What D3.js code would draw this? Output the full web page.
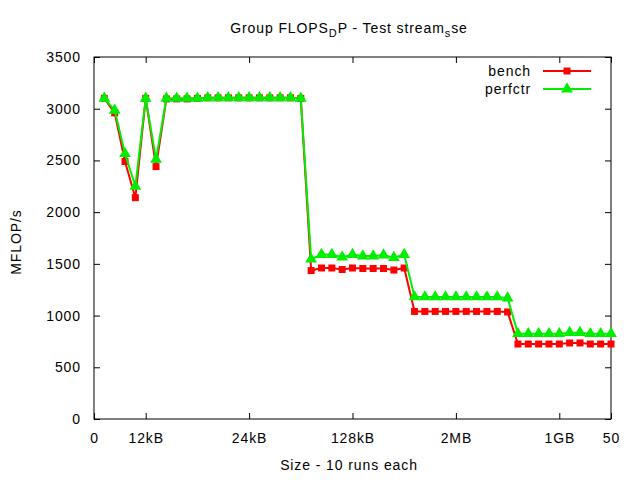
<!DOCTYPE html>
<html>
<head>
<meta charset="utf-8">
<script src="https://cdn.jsdelivr.net/npm/d3@7"></script>
<style>
  html, body { margin: 0; padding: 0; background: #fff; }
  svg text { font-family: "Liberation Sans", Arial, sans-serif; fill: #000; letter-spacing: 0.9px; }
</style>
</head>
<body>
<svg id="chart" width="640" height="480"></svg>
<script>
// ---- data ----
const xValues = d3.range(1, 51);
const benchValues = [
  3100, 2960, 2490, 2140, 3100, 2440, 3095, 3095, 3095, 3100,
  3105, 3105, 3105, 3105, 3105, 3105, 3105, 3105, 3105, 3100,
  1435, 1460, 1460, 1445, 1460, 1455, 1455, 1455, 1440, 1460,
  1040, 1040, 1040, 1040, 1040, 1040, 1040, 1040, 1040, 1035,
  725, 725, 725, 725, 725, 735, 735, 725, 725, 725
];
const perfctrValues = [
  3100, 2985, 2565, 2250, 3100, 2510, 3100, 3100, 3100, 3100,
  3105, 3105, 3105, 3105, 3105, 3105, 3105, 3105, 3105, 3100,
  1545, 1590, 1590, 1565, 1590, 1575, 1575, 1585, 1560, 1590,
  1180, 1180, 1180, 1180, 1180, 1180, 1180, 1180, 1180, 1170,
  825, 825, 825, 825, 825, 835, 835, 825, 825, 825
];
const xTickValues = [0, 5, 15, 25, 35, 45, 50];
const xTickLabels = ["0", "12kB", "24kB", "128kB", "2MB", "1GB", "50"];
const yTickValues = [0, 500, 1000, 1500, 2000, 2500, 3000, 3500];
const seriesNames = ["bench", "perfctr"];
const seriesColors = ["#ff0000", "#00ee00"];

// ---- layout ----
const svg = d3.select("#chart");
const L = 94, R = 611, T = 57, B = 419;
const x = d3.scaleLinear().domain([0, 50]).range([L, R]);
const y = d3.scaleLinear().domain([0, 3500]).range([B, T]);

// title (with gnuplot-style subscripts)
const title = svg.append("text").attr("x", 349).attr("y", 33)
  .attr("text-anchor", "middle").style("font-size", "14px");
title.append("tspan").text("Group FLOPS");
title.append("tspan").attr("dy", 4).style("font-size", "11px").text("D");
title.append("tspan").attr("dy", -4).text("P - Test stream");
title.append("tspan").attr("dy", 4).style("font-size", "11px").text("s");
title.append("tspan").attr("dy", -4).text("se");

// axes
const tickLen = 6;
const axL = svg.append("g").attr("transform", `translate(${L},0)`)
  .call(d3.axisLeft(y).tickValues(yTickValues).tickSize(-tickLen).tickPadding(13).tickFormat(d3.format("d")));
const axR = svg.append("g").attr("transform", `translate(${R},0)`)
  .call(d3.axisRight(y).tickValues(yTickValues).tickSize(-tickLen).tickFormat(""));
const axB = svg.append("g").attr("transform", `translate(0,${B})`)
  .call(d3.axisBottom(x).tickValues(xTickValues).tickSize(-tickLen).tickPadding(14)
    .tickFormat((d, i) => xTickLabels[i]));
const axT = svg.append("g").attr("transform", `translate(0,${T})`)
  .call(d3.axisTop(x).tickValues(xTickValues).tickSize(-tickLen).tickFormat(""));
[axL, axR, axB, axT].forEach(a => {
  a.select(".domain").remove();
  a.selectAll("line").attr("stroke", "#000");
  a.selectAll("text").style("font-size", "14px")
    .style("font-family", "'Liberation Sans', Arial, sans-serif").attr("fill", "#000");
});
svg.append("rect").attr("x", L).attr("y", T).attr("width", R - L).attr("height", B - T)
  .attr("fill", "none").attr("stroke", "#000").attr("stroke-width", 1);

// axis labels
svg.append("text").attr("x", 349).attr("y", 470).attr("text-anchor", "middle")
  .style("font-size", "14px").text("Size - 10 runs each");
svg.append("text").attr("transform", "translate(21,242) rotate(-90)")
  .attr("text-anchor", "middle").style("font-size", "14px").text("MFLOP/s");

// series
const series = [benchValues, perfctrValues];
const line = d3.line().x((d, i) => x(xValues[i])).y(d => y(d));
const sq = d3.symbol().type(d3.symbolSquare).size(49);
const tri = d3.symbol().type(d3.symbolTriangle).size(60);

series.forEach((vals, s) => {
  const g = svg.append("g");
  g.append("path").datum(vals).attr("d", line).attr("fill", "none")
    .attr("stroke", seriesColors[s]).attr("stroke-width", 2);
  g.selectAll("path.m").data(vals).enter().append("path").attr("class", "m")
    .attr("d", s === 0 ? sq : tri)
    .attr("transform", (d, i) => `translate(${x(xValues[i])},${y(d)})`)
    .attr("fill", seriesColors[s]);
});

// legend
seriesNames.forEach((name, s) => {
  const ly = 71 + s * 18;
  svg.append("text").attr("x", 531).attr("y", ly + 5).attr("text-anchor", "end")
    .style("font-size", "14px").text(name);
  svg.append("line").attr("x1", 543).attr("x2", 591).attr("y1", ly).attr("y2", ly)
    .attr("stroke", seriesColors[s]).attr("stroke-width", 2);
  svg.append("path").attr("d", s === 0 ? sq : tri)
    .attr("transform", `translate(567,${ly})`).attr("fill", seriesColors[s]);
});
</script>
</body>
</html>
